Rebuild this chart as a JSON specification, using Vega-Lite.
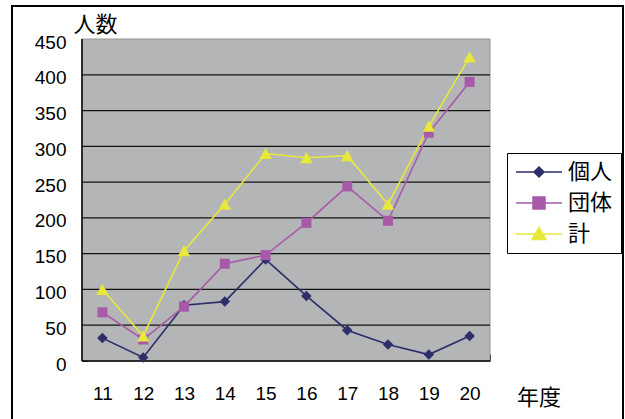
{
  "$schema": "https://vega.github.io/schema/vega-lite/v6.json",
  "width": 611,
  "height": 430,
  "autosize": {"type": "none"},
  "padding": {"left": 12, "top": 6, "right": 2, "bottom": 0},
  "background": "white",
  "config": {
    "view": {"stroke": "black", "strokeWidth": 2},
    "font": "Liberation Sans"
  },
  "datasets": {
    "counts": [
      {"年度": 11, "区分": "個人", "人数": 32},
      {"年度": 12, "区分": "個人", "人数": 5},
      {"年度": 13, "区分": "個人", "人数": 78},
      {"年度": 14, "区分": "個人", "人数": 83},
      {"年度": 15, "区分": "個人", "人数": 142},
      {"年度": 16, "区分": "個人", "人数": 91},
      {"年度": 17, "区分": "個人", "人数": 43},
      {"年度": 18, "区分": "個人", "人数": 23},
      {"年度": 19, "区分": "個人", "人数": 9},
      {"年度": 20, "区分": "個人", "人数": 35},
      {"年度": 11, "区分": "団体", "人数": 68},
      {"年度": 12, "区分": "団体", "人数": 30},
      {"年度": 13, "区分": "団体", "人数": 76},
      {"年度": 14, "区分": "団体", "人数": 136},
      {"年度": 15, "区分": "団体", "人数": 148},
      {"年度": 16, "区分": "団体", "人数": 193},
      {"年度": 17, "区分": "団体", "人数": 244},
      {"年度": 18, "区分": "団体", "人数": 196},
      {"年度": 19, "区分": "団体", "人数": 319},
      {"年度": 20, "区分": "団体", "人数": 390},
      {"年度": 11, "区分": "計", "人数": 100},
      {"年度": 12, "区分": "計", "人数": 35},
      {"年度": 13, "区分": "計", "人数": 154},
      {"年度": 14, "区分": "計", "人数": 219},
      {"年度": 15, "区分": "計", "人数": 290},
      {"年度": 16, "区分": "計", "人数": 284},
      {"年度": 17, "区分": "計", "人数": 287},
      {"年度": 18, "区分": "計", "人数": 219},
      {"年度": 19, "区分": "計", "人数": 328},
      {"年度": 20, "区分": "計", "人数": 425}
    ],
    "gridlines": [
      {"人数": 50}, {"人数": 100}, {"人数": 150}, {"人数": 200},
      {"人数": 250}, {"人数": 300}, {"人数": 350}, {"人数": 400}
    ]
  },
  "layer": [
    {
      "data": {"values": [{}]},
      "mark": {"type": "rect", "fill": "#b4b5b7", "stroke": "#959595", "strokeWidth": 1},
      "encoding": {
        "x": {
          "datum": 10.5, "type": "quantitative",
          "scale": {"domain": [8.7843, 23.7598], "nice": false, "zero": false}
        },
        "x2": {"datum": 20.5},
        "y": {
          "datum": 0, "type": "quantitative",
          "scale": {"domain": [-104.81, 496.12], "nice": false, "zero": false}
        },
        "y2": {"datum": 450}
      }
    },
    {
      "data": {"name": "gridlines"},
      "mark": {"type": "rule", "color": "#141414", "strokeWidth": 1.2},
      "encoding": {
        "y": {"field": "人数", "type": "quantitative"},
        "x": {"datum": 10.5, "type": "quantitative"},
        "x2": {"datum": 20.5}
      }
    },
    {
      "data": {"values": [{}]},
      "mark": {"type": "rule", "color": "black", "strokeWidth": 1.5},
      "encoding": {
        "x": {"datum": 10.5, "type": "quantitative"},
        "y": {"datum": 0, "type": "quantitative"},
        "y2": {"datum": 450}
      }
    },
    {
      "data": {"values": [{}]},
      "mark": {"type": "rule", "color": "black", "strokeWidth": 1.5},
      "encoding": {
        "y": {"datum": 0, "type": "quantitative"},
        "x": {"datum": 10.5, "type": "quantitative"},
        "x2": {"datum": 20.5}
      }
    },
    {
      "data": {"name": "counts"},
      "transform": [{"filter": "datum['区分'] === '個人'"}],
      "mark": {"type": "line", "strokeWidth": 1.6, "color": "#2e2e6a"},
      "encoding": {
        "x": {
          "field": "年度", "type": "quantitative",
          "scale": {"domain": [8.7843, 23.7598], "nice": false, "zero": false},
          "axis": {
            "orient": "bottom", "offset": -75,
            "values": [11, 12, 13, 14, 15, 16, 17, 18, 19, 20],
            "domain": false, "grid": false,
            "tickSize": -7, "tickOffset": 20.4, "tickColor": "black", "tickWidth": 1,
            "labelOffset": -20.4, "labelPadding": 30,
            "labelFontSize": 19, "labelColor": "black",
            "labelFlush": false, "labelOverlap": false,
            "title": "年度", "titleX": 526.5, "titleY": 43,
            "titleAlign": "center", "titleBaseline": "alphabetic",
            "titleFont": "Noto Sans CJK JP", "titleFontSize": 22,
            "titleFontWeight": "normal", "titleColor": "black"
          }
        },
        "y": {
          "field": "人数", "type": "quantitative",
          "scale": {"domain": [-104.81, 496.12], "nice": false, "zero": false},
          "axis": {
            "orient": "left", "offset": -70,
            "values": [0, 50, 100, 150, 200, 250, 300, 350, 400, 450],
            "domain": false, "grid": false,
            "tickSize": -6, "tickColor": "black", "tickWidth": 1,
            "labelPadding": 22, "labelOffset": 3,
            "labelFontSize": 19, "labelColor": "black",
            "labelFlush": false, "labelOverlap": false,
            "title": "人数", "titleAngle": 0, "titleX": 13, "titleY": 25,
            "titleAlign": "center", "titleBaseline": "alphabetic",
            "titleFont": "Noto Sans CJK JP", "titleFontSize": 22,
            "titleFontWeight": "normal", "titleColor": "black"
          }
        }
      }
    },
    {
      "data": {"name": "counts"},
      "transform": [{"filter": "datum['区分'] === '団体'"}],
      "mark": {"type": "line", "strokeWidth": 1.6, "color": "#a85aa8"},
      "encoding": {
        "x": {"field": "年度", "type": "quantitative"},
        "y": {"field": "人数", "type": "quantitative"}
      }
    },
    {
      "data": {"name": "counts"},
      "transform": [{"filter": "datum['区分'] === '計'"}],
      "mark": {"type": "line", "strokeWidth": 1.6, "color": "#e8e83c"},
      "encoding": {
        "x": {"field": "年度", "type": "quantitative"},
        "y": {"field": "人数", "type": "quantitative"}
      }
    },
    {
      "data": {"name": "counts"},
      "transform": [{"filter": "datum['区分'] === '個人'"}],
      "mark": {"type": "point", "filled": true, "opacity": 1, "size": 100, "color": "#2e2e6a", "shape": "M0,-1.05L1.05,0L0,1.05L-1.05,0Z"},
      "encoding": {
        "x": {"field": "年度", "type": "quantitative"},
        "y": {"field": "人数", "type": "quantitative"}
      }
    },
    {
      "data": {"name": "counts"},
      "transform": [{"filter": "datum['区分'] === '団体'"}],
      "mark": {"type": "point", "filled": true, "opacity": 1, "size": 100, "color": "#a85aa8", "shape": "M-1,-1H1V1H-1Z"},
      "encoding": {
        "x": {"field": "年度", "type": "quantitative"},
        "y": {"field": "人数", "type": "quantitative"}
      }
    },
    {
      "data": {"name": "counts"},
      "transform": [{"filter": "datum['区分'] === '計'"}],
      "mark": {"type": "point", "filled": true, "opacity": 1, "size": 100, "color": "#e8e83c", "shape": "M0,-1.15L1.25,1.1H-1.25Z"},
      "encoding": {
        "x": {"field": "年度", "type": "quantitative"},
        "y": {"field": "人数", "type": "quantitative"}
      }
    },
    {
      "data": {"name": "counts"},
      "transform": [{"filter": "false"}],
      "mark": {"type": "point", "filled": true, "opacity": 1, "strokeWidth": 1.5},
      "encoding": {
        "fill": {
          "field": "区分", "type": "nominal",
          "scale": {"domain": ["個人", "団体", "計"], "range": ["#2e2e6a", "#a85aa8", "#e8e83c"]},
          "legend": {
            "title": null,
            "orient": "none", "legendX": 495, "legendY": 147,
            "padding": 8, "strokeColor": "black", "fillColor": "white",
            "symbolSize": 400, "symbolOffset": 13, "symbolStrokeWidth": 1.5,
            "labelFont": "Noto Sans CJK JP", "labelFontSize": 22, "labelColor": "black",
            "labelOffset": 18, "rowPadding": 9
          }
        },
        "stroke": {
          "field": "区分", "type": "nominal",
          "scale": {"domain": ["個人", "団体", "計"], "range": ["#2e2e6a", "#a85aa8", "#e8e83c"]}
        },
        "shape": {
          "field": "区分", "type": "nominal",
          "scale": {
            "domain": ["個人", "団体", "計"],
            "range": [
              "M-2.3,0H2.3M0,-0.5L0.5,0L0,0.5L-0.5,0Z",
              "M-2.3,0H2.3M-0.6,-0.6H0.6V0.6H-0.6Z",
              "M-2.3,0H2.3M0,-0.65L0.7,0.55H-0.7Z"
            ]
          }
        }
      }
    }
  ]
}
